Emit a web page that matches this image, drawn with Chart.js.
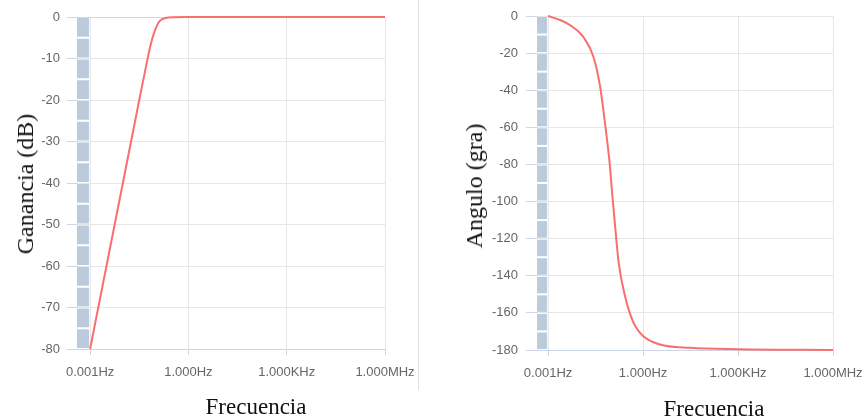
<!DOCTYPE html>
<html>
<head>
<meta charset="utf-8">
<script src="https://cdn.jsdelivr.net/npm/chart.js"></script>
<style>
  body { margin: 0; background: #fff; }
  #wrap { position: relative; width: 867px; height: 419px; overflow: hidden; background: #fff; }
  .box { position: absolute; top: 0; }
  .sep { position: absolute; left: 418px; top: 0; width: 1px; height: 390px; background: #e2e2e2; }
  .ttl { position: absolute; font-family: "Liberation Serif", "Times New Roman", serif; font-size: 23px;
         color: #111; line-height: 1; white-space: nowrap; transform: translate(-50%, -50%); }
  .rot { font-size: 24px; transform: translate(-50%, -50%) rotate(-90deg); }
</style>
</head>
<body>
<div id="wrap">
  <div class="box" style="left:0"><canvas id="gainChart" width="420" height="419"></canvas></div>
  <div class="box" style="left:430px"><canvas id="phaseChart" width="437" height="419"></canvas></div>
  <div class="sep"></div>
  <div class="ttl rot" style="left:25px; top:184px">Ganancia (dB)</div>
  <div class="ttl" style="left:256px; top:406px">Frecuencia</div>
  <div class="ttl rot" style="left:474px; top:186px">Angulo (gra)</div>
  <div class="ttl" style="left:714px; top:408px">Frecuencia</div>
</div>
<script>
// data
const gainFreq = [0.001, 0.00316, 0.01, 0.0316, 0.0562, 0.0708, 0.0891, 0.112, 0.141, 0.2, 0.35, 1, 1000, 1000000];
const gainDb = [-80, -60, -40, -20, -10.2, -6.6, -3.9, -1.9, -0.8, -0.25, -0.05, 0, 0, 0];

const phaseFreq = [0.001, 0.0025, 0.005, 0.013, 0.027, 0.044, 0.063, 0.09, 0.105, 0.126, 0.17, 0.27, 0.49, 1, 3.4, 30, 1000, 1000000];
const phaseDeg = [0, -2.3, -5, -11.3, -22, -38, -58, -81, -95, -110, -133, -151, -165, -172.5, -177, -178.8, -179.6, -180];

const freqTicks = [0.001, 1, 1000, 1000000];
const freqLabels = ['0.001Hz', '1.000Hz', '1.000KHz', '1.000MHz'];

// striped band at the left of the plot area
const sideBar = {
  id: 'sideBar',
  beforeDatasetsDraw(chart) {
    const {ctx, chartArea, scales: {x, y}} = chart;
    const half = y.options.ticks.stepSize / 2;
    const right = x.getPixelForValue(freqTicks[0]) - 1;
    ctx.save();
    ctx.fillStyle = '#bccbdc';
    for (let v = y.max; v > y.min; v -= half) {
      const t = y.getPixelForValue(v);
      const b = y.getPixelForValue(v - half);
      ctx.fillRect(chartArea.left, t + 1, right - chartArea.left, b - t - 2);
    }
    ctx.restore();
  }
};

function makeChart(id, freqs, vals, o) {
  return new Chart(document.getElementById(id), {
    type: 'line',
    data: {
      datasets: [{
        data: freqs.map((f, i) => ({x: f, y: vals[i]})),
        borderColor: '#fa6e6e',
        borderWidth: 2,
        pointRadius: 0,
        cubicInterpolationMode: 'monotone',
        clip: false
      }]
    },
    options: {
      responsive: false,
      animation: false,
      layout: { padding: { left: 0, top: o.top, right: o.right, bottom: o.bottom } },
      plugins: { legend: { display: false }, tooltip: { enabled: false } },
      scales: {
        x: {
          type: 'logarithmic',
          min: Math.pow(10, o.xMinExp),
          max: 1000000,
          afterBuildTicks: s => { s.ticks = freqTicks.map(v => ({value: v})); },
          afterFit: s => { s.height = 40; s.paddingLeft = 0; s.paddingRight = 0; },
          border: { color: '#ccd6eb' },
          grid: { color: '#e6e6e6', tickColor: '#ccd6eb', tickLength: 6 },
          ticks: {
            autoSkip: false, maxRotation: 0, padding: 10, color: '#666',
            font: { family: 'Liberation Sans, Arial', size: 13 },
            callback: v => freqLabels[freqTicks.indexOf(v)] || ''
          }
        },
        y: {
          min: o.yMin,
          max: 0,
          afterFit: s => { s.width = o.left; s.paddingTop = 0; s.paddingBottom = 0; },
          border: { display: false },
          grid: {
            color: c => (o.blueTop && c.tick && c.tick.value === 0) ? '#ccd6eb' : '#e6e6e6',
            tickColor: '#ccd6eb',
            tickLength: o.tickLen
          },
          ticks: {
            stepSize: o.step, padding: o.pad, color: '#666',
            font: { family: 'Liberation Sans, Arial', size: 13 }
          }
        }
      }
    },
    plugins: [sideBar]
  });
}

makeChart('gainChart', gainFreq, gainDb,
  { top: 17, right: 35, bottom: 30, left: 77, xMinExp: -3.4, yMin: -80, step: 10, tickLen: 10, pad: 7, blueTop: true });
makeChart('phaseChart', phaseFreq, phaseDeg,
  { top: 16, right: 34, bottom: 29, left: 107, xMinExp: -3.35, yMin: -180, step: 20, tickLen: 11, pad: 8, blueTop: false });
</script>
</body>
</html>
